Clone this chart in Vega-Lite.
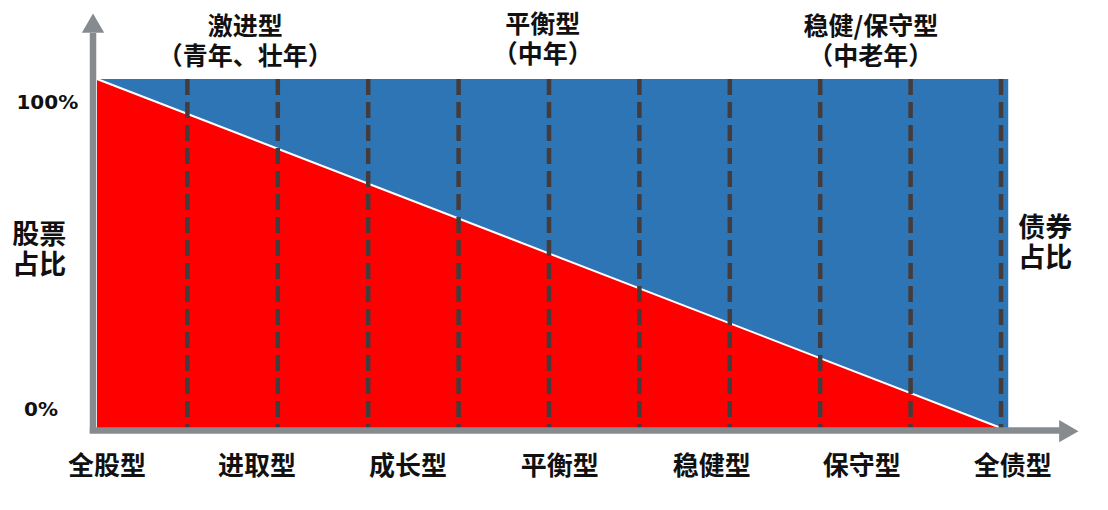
{
  "$schema": "https://vega.github.io/schema/vega-lite/v6.json",
  "width": 904,
  "height": 349,
  "autosize": {"type": "none"},
  "padding": {"left": 97, "top": 79, "right": 107, "bottom": 82},
  "background": "#ffffff",
  "config": {"view": {"stroke": null}},
  "datasets": {
    "bg": [{"x": 0, "x2": 10.08, "y": 0, "y2": 100}],
    "stock": [{"x": 0, "y": 100}, {"x": 10, "y": 0}],
    "dividers": [
      {"x": 1, "y": 100, "y2": 0}, {"x": 2, "y": 100, "y2": 0},
      {"x": 3, "y": 100, "y2": 0}, {"x": 4, "y": 100, "y2": 0},
      {"x": 5, "y": 100, "y2": 0}, {"x": 6, "y": 100, "y2": 0},
      {"x": 7, "y": 100, "y2": 0}, {"x": 8, "y": 100, "y2": 0},
      {"x": 9, "y": 100, "y2": 0}, {"x": 10, "y": 100, "y2": 0}
    ],
    "axes": [
      {"x": -0.044, "x2": -0.044, "y": -1.4, "y2": 113.2},
      {"x": -0.08, "x2": 10.65, "y": -0.72, "y2": -0.72}
    ],
    "heads": [
      {"axis": "y", "x": -0.044, "y": 116.0},
      {"axis": "x", "x": 10.75, "y": -0.9}
    ],
    "topLabels": [
      {"label": "激进型\n（青年、壮年）", "x": 1.64, "y": 114.9},
      {"label": "平衡型\n（中年）", "x": 4.93, "y": 115.4},
      {"label": "稳健/保守型\n（中老年）", "x": 8.56, "y": 114.9}
    ],
    "xLabels": [
      {"label": "全股型", "x": 0.11, "y": -11.2},
      {"label": "进取型", "x": 1.77, "y": -11.2},
      {"label": "成长型", "x": 3.44, "y": -11.2},
      {"label": "平衡型", "x": 5.12, "y": -11.2},
      {"label": "稳健型", "x": 6.8, "y": -11.2},
      {"label": "保守型", "x": 8.46, "y": -11.2},
      {"label": "全债型", "x": 10.13, "y": -11.2}
    ],
    "yLabels": [
      {"label": "100%", "x": -0.55, "y": 93.1},
      {"label": "0%", "x": -0.62, "y": 5.2}
    ],
    "sideLabels": [
      {"label": "股票\n占比", "x": -0.64, "y": 55.0},
      {"label": "债券\n占比", "x": 10.49, "y": 57.0}
    ]
  },
  "encoding": {
    "x": {"field": "x", "type": "quantitative", "scale": {"domain": [0, 10], "nice": false, "zero": false}, "axis": null},
    "y": {"field": "y", "type": "quantitative", "scale": {"domain": [0, 100], "nice": false, "zero": false}, "axis": null}
  },
  "layer": [
    {
      "data": {"name": "bg"},
      "mark": {"type": "rect", "color": "#2e75b6"},
      "encoding": {"x2": {"field": "x2"}, "y2": {"field": "y2"}}
    },
    {
      "data": {"name": "stock"},
      "mark": {"type": "area", "color": "#ff0000", "opacity": 1},
      "encoding": {"y2": {"datum": 0}}
    },
    {
      "data": {"name": "stock"},
      "mark": {"type": "line", "color": "#ffffff", "strokeWidth": 2}
    },
    {
      "data": {"name": "dividers"},
      "mark": {"type": "rule", "color": "#443c3c", "strokeWidth": 4.5, "strokeDash": [16, 7]},
      "encoding": {"y2": {"field": "y2"}}
    },
    {
      "data": {"name": "axes"},
      "mark": {"type": "rule", "color": "#868b8f", "strokeWidth": 6.5},
      "encoding": {"x2": {"field": "x2"}, "y2": {"field": "y2"}}
    },
    {
      "data": {"name": "heads"},
      "mark": {"type": "point", "filled": true, "color": "#868b8f", "opacity": 1, "size": 500},
      "encoding": {
        "shape": {"field": "axis", "type": "nominal", "scale": {"domain": ["y", "x"], "range": ["triangle-up", "triangle-right"]}, "legend": null}
      }
    },
    {
      "data": {"name": "topLabels"},
      "mark": {"type": "text", "font": "Noto Sans CJK SC", "fontWeight": "bold", "fontSize": 25, "lineHeight": 30, "lineBreak": "\n", "color": "#111111", "baseline": "middle", "align": "center"},
      "encoding": {"text": {"field": "label"}}
    },
    {
      "data": {"name": "xLabels"},
      "mark": {"type": "text", "font": "Noto Sans CJK SC", "fontWeight": "bold", "fontSize": 26, "color": "#111111", "baseline": "middle", "align": "center"},
      "encoding": {"text": {"field": "label"}}
    },
    {
      "data": {"name": "yLabels"},
      "mark": {"type": "text", "font": "DejaVu Sans", "fontWeight": "bold", "fontSize": 20, "color": "#111111", "baseline": "middle", "align": "center"},
      "encoding": {"text": {"field": "label"}}
    },
    {
      "data": {"name": "sideLabels"},
      "mark": {"type": "text", "font": "Noto Sans CJK SC", "fontWeight": "bold", "fontSize": 27, "lineHeight": 30, "lineBreak": "\n", "color": "#111111", "baseline": "middle", "align": "center"},
      "encoding": {"text": {"field": "label"}}
    }
  ]
}
